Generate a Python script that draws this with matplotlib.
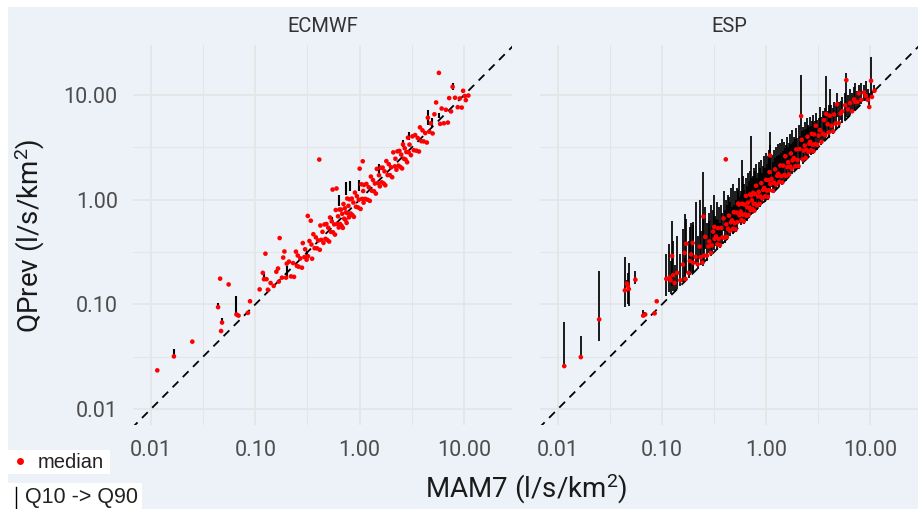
import matplotlib

matplotlib.use("Agg")
import matplotlib.pyplot as plt
from matplotlib.lines import Line2D
from matplotlib.patches import Rectangle

plt.rcParams["font.family"] = ["Roboto", "DejaVu Sans"]
plt.rcParams["mathtext.fontset"] = "custom"
plt.rcParams["mathtext.rm"] = "Roboto"
plt.rcParams["mathtext.it"] = "Roboto:italic"
plt.rcParams["mathtext.bf"] = "Roboto:bold"

W, H = 918, 509
BG = "#EDF1F8"
GRID = "#E5E5E6"

# observed MAM7 per station (l/s/km2)
mam7 = [
    0.0115, 0.0166, 0.0249, 0.044, 0.046, 0.047, 0.048, 0.0555, 0.066, 0.069, 0.085, 0.089,
    0.110, 0.118, 0.121, 0.125, 0.128, 0.132, 0.140, 0.150, 0.159, 0.165, 0.168, 0.171,
    0.180, 0.185, 0.190, 0.197, 0.200,
    0.210, 0.220, 0.230, 0.235, 0.245, 0.250, 0.255, 0.260, 0.270, 0.280, 0.285, 0.295,
    0.300, 0.310, 0.318, 0.320,
    0.330, 0.340, 0.345, 0.350, 0.360, 0.370, 0.380, 0.390, 0.400, 0.410, 0.415, 0.420,
    0.430, 0.440, 0.450, 0.460, 0.470, 0.480, 0.490, 0.500, 0.510, 0.520, 0.530, 0.540,
    0.550, 0.555,
    0.570, 0.580, 0.590, 0.600, 0.610, 0.620, 0.630, 0.640, 0.650, 0.660, 0.670, 0.680,
    0.690, 0.700, 0.710, 0.720, 0.730, 0.740, 0.750, 0.760, 0.770, 0.780, 0.790, 0.800,
    0.820, 0.840, 0.850, 0.870, 0.880, 0.900, 0.920, 0.940, 0.960, 0.980,
    1.000, 1.020, 1.040, 1.060, 1.070, 1.080, 1.090, 1.100, 1.130, 1.160, 1.190, 1.220,
    1.250, 1.280, 1.310, 1.340, 1.370, 1.400, 1.430, 1.460, 1.500, 1.530, 1.560, 1.600,
    1.630, 1.660, 1.700, 1.730, 1.760,
    1.800, 1.850, 1.900, 1.950, 2.000, 2.050, 2.100, 2.170, 2.200, 2.250, 2.300, 2.350,
    2.400, 2.450, 2.500, 2.550, 2.600, 2.650, 2.700, 2.750, 2.800, 2.850, 2.900, 2.950,
    3.000, 3.100,
    3.200, 3.300, 3.400, 3.500, 3.600, 3.700, 3.780, 3.900, 4.000, 4.100, 4.250, 4.400,
    4.500, 4.650, 4.800, 5.000, 5.200, 5.400,
    5.740, 5.900, 6.100, 6.400, 6.700, 7.000, 7.200, 7.500, 7.770, 8.200, 8.700, 9.100,
    9.500, 9.800, 10.20, 10.40, 11.00,
]

# ECMWF forecast median
ecmwf_med = [
    0.0234, 0.0318, 0.044, 0.094, 0.176, 0.0556, 0.067, 0.155, 0.080, 0.078, 0.083, 0.107,
    0.139, 0.200, 0.174, 0.305, 0.174, 0.138, 0.160, 0.150, 0.205, 0.220, 0.165, 0.430,
    0.180, 0.280, 0.320, 0.180, 0.245,
    0.256, 0.185, 0.248, 0.183, 0.319, 0.233, 0.293, 0.229, 0.275, 0.224, 0.385, 0.283,
    0.336, 0.267, 0.700, 0.288,
    0.403, 0.630, 0.373, 0.273, 0.468, 0.344, 0.437, 0.343, 0.408, 2.420, 0.332, 0.567,
    0.413, 0.493, 0.387, 0.580, 0.423, 0.586, 0.412, 0.540, 0.398, 0.676, 0.493, 0.621,
    1.250, 0.488,
    0.581, 0.464, 0.797, 1.280, 0.586, 0.694, 0.542, 0.806, 0.585, 0.805, 0.563, 0.734,
    0.538, 0.910, 0.660, 0.828, 0.642, 0.755, 0.600, 1.026, 0.739, 0.874, 0.679, 1.008,
    0.738, 1.025, 0.714, 0.940, 0.686, 1.170, 0.856, 1.081, 0.845, 1.000,
    1.980, 0.816, 1.404, 1.018, 2.330, 1.210, 0.937, 1.386, 1.017, 1.415, 1.000, 1.318,
    0.975, 1.664, 1.218, 1.541, 1.206, 1.428, 1.144, 1.971, 1.440, 1.714, 1.342, 2.016,
    1.467, 2.025, 1.428, 1.868, 1.373,
    2.340, 1.720, 2.185, 1.716, 2.040, 1.640, 2.835, 2.083, 2.464, 1.935, 2.898, 2.115,
    2.928, 2.058, 2.700, 1.989, 3.380, 2.465, 3.105, 2.420, 2.856, 2.280, 3.915, 2.832,
    3.360, 2.666,
    4.032, 2.970, 4.148, 2.940, 3.888, 2.886, 4.914, 3.627, 4.600, 3.608, 4.335, 3.520,
    6.075, 4.464, 5.376, 4.300, 6.552, 8.500,
    16.30, 5.310, 7.442, 5.376, 7.236, 5.460, 9.360, 6.975, 12.00, 9.430, 7.656, 9.282,
    7.600, 10.98, 9.792, 8.944, 9.900,
]

# ESP forecast median and Q10 / Q90
esp_med = [
    0.0257, 0.0313, 0.0718, 0.136, 0.158, 0.150, 0.140, 0.172, 0.078, 0.080, 0.082, 0.107,
    0.175, 0.180, 0.170, 0.290, 0.190, 0.160, 0.200, 0.170, 0.240, 0.310, 0.175, 0.380,
    0.200, 0.260, 0.300, 0.386, 0.250,
    0.284, 0.242, 0.357, 0.282, 0.250, 0.690, 0.293, 0.442, 0.292, 0.358, 0.399, 0.310,
    0.366, 0.496, 0.550, 0.422,
    0.446, 0.374, 0.535, 0.420, 0.367, 0.537, 0.437, 0.663, 0.432, 2.430, 0.581, 0.441,
    0.525, 0.704, 0.504, 0.607, 0.635, 0.528, 0.760, 0.600, 0.520, 0.754, 0.610, 0.918,
    0.900, 0.710,
    0.770, 0.638, 0.915, 0.720, 0.622, 0.899, 0.725, 1.088, 0.702, 0.845, 0.938, 0.714,
    0.842, 1.120, 0.795, 1.100, 0.986, 0.814, 1.163, 0.912, 0.785, 1.131, 0.909, 1.360,
    0.886, 1.075, 1.190, 0.914, 1.074, 1.440, 1.030, 1.241, 1.296, 1.078,
    1.550, 1.224, 1.061, 1.537, 1.231, 1.836, 2.650, 1.408, 1.582, 1.218, 1.452, 1.952,
    1.400, 1.690, 1.769, 1.474, 2.124, 1.680, 1.459, 2.117, 1.725, 2.601, 1.685, 2.048,
    2.282, 1.743, 2.074, 2.768, 1.971,
    2.376, 2.498, 2.090, 3.023, 2.400, 2.091, 3.045, 6.300, 3.740, 2.430, 2.944, 3.290,
    2.520, 2.989, 4.000, 2.856, 3.432, 3.578, 2.970, 4.263, 3.360, 2.907, 4.205, 3.393,
    5.100, 3.348,
    4.096, 4.620, 3.570, 4.270, 5.760, 4.144, 6.600, 5.265, 4.400, 6.355, 5.100, 4.488,
    6.525, 5.348, 8.160, 5.400, 6.656, 7.000,
    8.000, 13.90, 7.300, 8.400, 7.000, 9.100, 8.600, 8.600, 10.40, 9.000, 10.60, 9.800,
    9.000, 7.700, 13.70, 9.600, 11.00,
]

esp_q10 = [
    0.0245, 0.030, 0.0446, 0.094, 0.150, 0.100, 0.096, 0.155, 0.076, 0.077, 0.080, 0.104,
    0.120, 0.130, 0.125, 0.150, 0.135, 0.130, 0.140, 0.150, 0.165, 0.180, 0.165, 0.200,
    0.180, 0.190, 0.200, 0.200, 0.205,
    0.242, 0.216, 0.288, 0.240, 0.235, 0.440, 0.255, 0.338, 0.262, 0.308, 0.336, 0.292,
    0.315, 0.397, 0.330, 0.358,
    0.380, 0.333, 0.431, 0.357, 0.346, 0.444, 0.380, 0.507, 0.388, 2.400, 0.490, 0.416,
    0.452, 0.563, 0.450, 0.515, 0.541, 0.470, 0.613, 0.510, 0.490, 0.624, 0.530, 0.702,
    0.600, 0.611,
    0.656, 0.568, 0.738, 0.612, 0.586, 0.744, 0.630, 0.832, 0.631, 0.726, 0.791, 0.673,
    0.725, 0.896, 0.710, 0.930, 0.840, 0.725, 0.938, 0.775, 0.739, 0.936, 0.790, 1.040,
    0.795, 0.924, 1.003, 0.861, 0.924, 1.152, 0.920, 1.053, 1.104, 0.960,
    1.250, 1.040, 0.998, 1.272, 1.070, 1.404, 1.300, 1.210, 1.333, 1.148, 1.250, 1.562,
    1.250, 1.434, 1.507, 1.313, 1.713, 1.428, 1.373, 1.752, 1.500, 1.989, 1.513, 1.760,
    1.923, 1.643, 1.785, 2.214, 1.760,
    2.016, 2.128, 1.862, 2.438, 2.040, 1.968, 2.520, 2.400, 2.860, 2.183, 2.530, 2.773,
    2.376, 2.573, 3.200, 2.550, 2.912, 3.048, 2.646, 3.438, 2.856, 2.736, 3.480, 2.950,
    3.900, 3.007,
    3.520, 3.894, 3.366, 3.675, 4.608, 3.700, 4.000, 4.485, 3.920, 5.125, 4.335, 4.224,
    5.400, 4.650, 6.240, 4.850, 5.720, 5.400,
    5.800, 6.200, 6.100, 6.400, 6.700, 7.000, 7.200, 7.500, 7.770, 8.200, 8.700, 9.100,
    8.800, 7.500, 10.00, 9.300, 10.50,
]

esp_q90 = [
    0.068, 0.050, 0.208, 0.284, 0.170, 0.200, 0.250, 0.207, 0.088, 0.085, 0.086, 0.110,
    0.30, 0.38, 0.26, 0.62, 0.40, 0.24, 0.45, 0.30, 0.52, 0.73, 0.28, 0.65,
    0.40, 0.55, 0.60, 0.61, 0.57,
    0.95, 0.45, 1.00, 0.50, 0.70, 1.85, 0.45, 0.85, 0.60, 0.75, 0.62, 0.90,
    0.55, 0.80, 1.10, 0.70,
    0.65, 0.95, 0.64, 0.85, 0.60, 0.90, 0.75, 1.20, 0.80, 2.46, 1.00, 0.90,
    1.10, 1.05, 0.95, 1.30, 0.85, 1.40, 0.90, 1.20, 1.00, 1.30, 0.95, 1.25,
    1.60, 1.05,
    1.20, 1.10, 2.40, 1.70, 1.25, 1.40, 1.15, 1.60, 1.35, 1.20, 1.80, 1.50,
    1.30, 1.90, 1.40, 4.10, 1.45, 1.60, 1.70, 1.50, 2.00, 1.90, 1.55, 2.20,
    1.60, 1.80, 2.30, 1.70, 2.00, 2.40, 1.80, 2.10, 2.60, 2.00,
    2.80, 2.20, 2.60, 2.30, 3.00, 4.40, 3.30, 2.40, 2.70, 2.30, 3.00, 2.50,
    3.20, 2.60, 3.40, 2.70, 3.50, 2.80, 3.80, 2.90, 3.60, 3.10, 3.30, 4.00,
    3.20, 3.50, 4.20, 3.40, 4.60,
    3.60, 4.00, 3.80, 4.80, 3.90, 5.20, 4.10, 15.50, 4.50, 5.00, 4.60, 5.50,
    4.70, 6.00, 4.80, 5.20, 5.00, 6.20, 5.10, 5.60, 5.30, 6.50, 5.40, 5.70,
    6.80, 5.80,
    6.00, 7.70, 6.20, 7.00, 6.50, 7.50, 15.20, 7.00, 8.00, 11.50, 8.00, 7.50,
    8.50, 8.20, 10.50, 8.50, 8.70, 9.50,
    10.50, 16.20, 10.00, 11.50, 10.50, 12.00, 13.00, 11.00, 12.50, 13.00, 12.50, 13.50,
    11.50, 10.50, 23.00, 11.00, 12.50,
]

# ECMWF Q10 -> Q90 ranges that stick out of the median dots
ecmwf_bar_x = [0.0166, 0.044, 0.048, 0.066, 0.121, 0.200, 0.310, 0.540, 0.630, 0.746,
               0.800, 0.980, 1.530, 2.600, 3.000, 4.500, 4.900, 5.800, 7.770]
ecmwf_q10 = [0.031, 0.092, 0.066, 0.078, 0.170, 0.180, 0.275, 0.610, 0.870, 1.120,
             1.200, 1.200, 1.800, 3.200, 3.700, 5.200, 5.000, 6.000, 11.30]
ecmwf_q90 = [0.0375, 0.104, 0.074, 0.120, 0.200, 0.230, 0.320, 0.680, 1.100, 1.480,
             1.500, 1.550, 2.200, 3.700, 4.450, 7.200, 6.000, 6.700, 13.10]

tick_vals = [0.01, 0.1, 1, 10]
tick_labels = ["0.01", "0.10", "1.00", "10.00"]
minor_vals = [0.0316, 0.316, 3.16]


def fx(px):
    return px / W


def fy(py):
    return 1 - py / H


def style_axis(ax, title, show_y):
    ax.set_xscale("log")
    ax.set_yscale("log")
    ax.set_facecolor("none")
    for sp in ax.spines.values():
        sp.set_visible(False)
    ax.set_xticks(tick_vals)
    ax.set_xticklabels(tick_labels)
    ax.set_yticks(tick_vals)
    ax.set_yticklabels(tick_labels if show_y else [])
    ax.set_xticks(minor_vals, minor=True)
    ax.set_yticks(minor_vals, minor=True)
    ax.set_xticklabels([], minor=True)
    ax.set_yticklabels([], minor=True)
    ax.tick_params(which="both", length=0, labelsize=15.5, labelcolor="#4D4D4D", pad=11)
    ax.grid(which="major", color=GRID, lw=1.3)
    ax.grid(which="minor", color=GRID, lw=0.8)
    ax.set_axisbelow(True)
    ax.text(0.5, 1.0 + 13 / 380, title, transform=ax.transAxes, ha="center", va="baseline",
            fontsize=14.5, color="#333333")


def diag(ax):
    ax.plot([0.001, 100], [0.001, 100], color="black", lw=1.3, ls=(0, (4.5, 3.5)), zorder=2,
            scalex=False, scaley=False)


fig = plt.figure(figsize=(W / 100, H / 100), dpi=100, facecolor="white")
fig.patches.append(Rectangle((fx(8), 0), 1 - fx(8), fy(7), transform=fig.transFigure,
                             facecolor=BG, edgecolor="none", zorder=-10))

ax1 = fig.add_axes([fx(133), fy(425), 379 / W, 380 / H])
ax2 = fig.add_axes([fx(540), fy(425), 378 / W, 380 / H])

style_axis(ax1, "ECMWF", True)
style_axis(ax2, "ESP", False)

diag(ax1)
ax1.vlines(ecmwf_bar_x, ecmwf_q10, ecmwf_q90, color="black", lw=1.5, zorder=3)
ax1.scatter(mam7, ecmwf_med, s=11, color="red", edgecolor="none", zorder=4)

diag(ax2)
ax2.vlines(mam7, esp_q10, esp_q90, color="black", lw=1.25, zorder=3)
ax2.scatter(mam7, esp_med, s=11, color="red", edgecolor="none", zorder=4)

# limits last: set_xticks widens the view otherwise
for ax in (ax1, ax2):
    ax.set_xlim(0.00673, 28.8)
    ax.set_ylim(0.00703, 30.1)

fig.text(fx(30), fy(236), "QPrev (l/s/km$^2$)", rotation=90, ha="center", va="center",
         fontsize=20, color="#1a1a1a")
fig.text(fx(526), fy(489), "MAM7 (l/s/km$^2$)", ha="center", va="center",
         fontsize=20, color="#1a1a1a")

# hand-made legend boxes at bottom left
fig.patches.append(Rectangle((0, fy(474)), fx(110), 24 / H, transform=fig.transFigure,
                             facecolor="white", edgecolor="none", zorder=5))
fig.patches.append(Rectangle((0, 0), fx(142), fy(483), transform=fig.transFigure,
                             facecolor="white", edgecolor="none", zorder=5))
fig.add_artist(Line2D([fx(20)], [fy(461)], marker="o", markersize=5, color="red",
                      markeredgewidth=0, transform=fig.transFigure, zorder=6))
fig.add_artist(Line2D([fx(15.5), fx(15.5)], [fy(487), 0], color="black", lw=1.0,
                      transform=fig.transFigure, zorder=6))
fig.text(fx(38), fy(462), "median", ha="left", va="center", fontsize=14.5,
         family=["Liberation Sans", "DejaVu Sans"], color="#222222", zorder=7)
fig.text(fx(25), fy(497), "Q10 -> Q90", ha="left", va="center", fontsize=15.5,
         family=["Liberation Sans", "DejaVu Sans"], color="#222222", zorder=7)

fig.savefig("out.png", dpi=100, facecolor="white")
